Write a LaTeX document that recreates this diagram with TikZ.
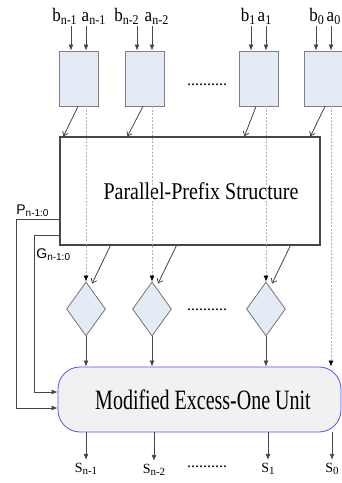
\documentclass[tikz,border=0pt]{standalone}
\usepackage{graphicx}
\usepackage{fontspec}
\setmainfont{Liberation Serif}
\newfontfamily\labelsans{Liberation Sans}
\usetikzlibrary{positioning}
\usetikzlibrary{calc}
\usetikzlibrary{shapes}
\usetikzlibrary{shapes.geometric}
\usetikzlibrary{arrows.meta}
\definecolor{cellblue}{RGB}{228,235,246}
\definecolor{unitgray}{RGB}{241,241,241}
\definecolor{unitblue}{RGB}{85,85,245}
\definecolor{wiregray}{RGB}{70,70,70}
\newcommand{\idx}[2][12]{\raisebox{-0.15em}{\fontsize{#1}{#1}\selectfont #2}}
\newcommand{\tall}[2][1.2]{\scalebox{1}[#1]{#2}}
\tikzset{>={Latex[length=6pt,width=5pt]}}
\tikzset{cellbox/.style={rectangle, draw=gray, fill=cellblue, minimum width=39pt, minimum height=55pt, inner sep=0pt}}
\tikzset{mergebox/.style={diamond, draw=gray!90!black, fill=cellblue, minimum width=39pt, minimum height=54pt, inner sep=0pt}}
\tikzset{prefixbox/.style={rectangle, draw=wiregray, line width=1.2pt, minimum width=260pt, minimum height=108pt, font=\fontsize{20}{24}\selectfont}}
\tikzset{unitbox/.style={rectangle, rounded corners=22pt, draw=unitblue, fill=unitgray, minimum width=283pt, minimum height=65pt, font=\fontsize{20}{24}\selectfont}}
\tikzset{inlabel/.style={font=\fontsize{17}{17}\selectfont, inner sep=1pt, anchor=base}}
\tikzset{outlabel/.style={font=\fontsize{14}{14}\selectfont, inner sep=3pt}}
\tikzset{wirelabel/.style={font=\labelsans\fontsize{14}{14}\selectfont, inner sep=0pt}}
\tikzset{wire/.style={draw=wiregray, ->}}
\tikzset{dashwire/.style={draw=gray!60, dash pattern=on 2pt off 1.5pt, ->, >={Latex[length=6pt,width=5pt,black]}}}
\tikzset{diag/.style={draw=wiregray, ->, >={Straight Barb[length=4pt,width=6pt]}}}
\tikzset{dotrow/.style={font=\fontsize{16}{16}\selectfont, inner sep=0pt}}

\begin{document}
\begin{tikzpicture}[x=1pt,y=1pt,line width=0.8pt]
    \useasboundingbox (0,0) rectangle (342,483);

    % Input cells
    \node [cellbox] (celln1) at (79,404.5) {};
    \node [cellbox] (celln2) at (145,404.5) {};
    \node [cellbox] (cell1) at (259,404.5) {};
    \node [cellbox] (cell0) at (324,404.5) {};
    \node [dotrow] (dotstop) at (207,398) {..........};

    % Operand labels
    \node [inlabel] (bn1) at (64.5,461) {\tall[1.12]{b\idx{n-1}}};
    \node [inlabel] (an1) at (93.5,461) {\tall[1.12]{a\idx{n-1}}};
    \node [inlabel] (bn2) at (126.5,461) {\tall[1.12]{b\idx{n-2}}};
    \node [inlabel] (an2) at (156.5,461) {\tall[1.12]{a\idx{n-2}}};
    \node [inlabel] (b1) at (248,461) {\tall[1.12]{b\idx{1}}};
    \node [inlabel] (a1) at (264.5,461) {\tall[1.12]{a\idx{1}}};
    \node [inlabel] (b0) at (316.5,461) {\tall[1.12]{b\idx{0}}};
    \node [inlabel] (a0) at (333.5,461) {\tall[1.12]{a\idx{0}}};

    % Operand arrows
    \draw [wire] ($(bn1.south)+(6.5,0)$) -- ($(celln1.north)+(-8,0)$);
    \draw [wire] ($(an1.south)+(-7.5,0)$) -- ($(celln1.north)+(7,0)$);
    \draw [wire] ($(bn2.south)+(10.5,0)$) -- ($(celln2.north)+(-8,0)$);
    \draw [wire] ($(an2.south)+(-4.5,0)$) -- ($(celln2.north)+(7,0)$);
    \draw [wire] ($(b1.south)+(3,0)$) -- ($(cell1.north)+(-8,0)$);
    \draw [wire] ($(a1.south)+(1.5,0)$) -- ($(cell1.north)+(7,0)$);
    \draw [wire] ($(b0.south)+(-0.5,0)$) -- ($(cell0.north)+(-8,0)$);
    \draw [wire] ($(a0.south)+(-2.5,0)$) -- ($(cell0.north)+(7,0)$);

    % Prefix network
    \node [prefixbox] (pps) at (190,292) {\hspace*{22pt}\tall[1.2]{Parallel-Prefix Structure}};

    % Merge diamonds
    \node [mergebox] (mergen1) at (86,174) {};
    \node [mergebox] (mergen2) at (152,174) {};
    \node [mergebox] (merge1) at (266,174) {};
    \node [dotrow] (dotsmid) at (207,173) {..........};

    % Sum unit
    \node [unitbox] (unit) at (199.5,83.5) {\hspace*{7pt}\tall[1.4]{Modified Excess-One Unit}};

    % Sum labels
    \node [outlabel] (sn1) at (86,14) {S\idx[11]{n-1}};
    \node [outlabel] (sn2) at (154,13) {S\idx[11]{n-2}};
    \node [outlabel] (s1) at (268,14) {S\idx[11]{1}};
    \node [outlabel] (s0) at (332,14) {S\idx[11]{0}};
    \node [dotrow] (dotsbot) at (207,16) {..........};

    % Taps under the cells
    \coordinate (tapn1) at ($(celln1.south)+(7,0)$);
    \coordinate (tapn2) at ($(celln2.south)+(7,0)$);
    \coordinate (tap1) at ($(cell1.south)+(7,0)$);
    \coordinate (tap0) at ($(cell0.south)+(7,0)$);

    % Cells into prefix network
    \draw [diag] ($(celln1.south)+(-1,0)$) -- ($(pps.north west)+(4,0)$);
    \draw [diag] ($(celln2.south)+(-2,0)$) -- ($(pps.north west)+(68,0)$);
    \draw [diag] ($(cell1.south)+(-3,0)$) -- ($(pps.north west)+(185,0)$);
    \draw [diag] ($(cell0.south)+(1,0)$) -- ($(pps.north west)+(251,0)$);

    % Dashed bypass lines
    \draw [dashwire] (tapn1) -- (mergen1.north);
    \draw [dashwire] (tapn2) -- (mergen2.north);
    \draw [dashwire] (tap1) -- (merge1.north);
    \draw [dashwire] (tap0) -- (tap0 |- unit.north);

    % Prefix network into diamonds
    \draw [diag] ($(pps.south west)+(51,0)$) -- ($(mergen1.north)+(6,-2)$);
    \draw [diag] ($(pps.south west)+(117,0)$) -- ($(mergen2.north)+(6,-2)$);
    \draw [diag] ($(pps.south west)+(231,0)$) -- ($(merge1.north)+(6,-2)$);

    % Diamonds into unit
    \draw [wire] (mergen1) -- (mergen1 |- unit.north);
    \draw [wire] (mergen2) -- (mergen2 |- unit.north);
    \draw [wire] (merge1) -- (merge1 |- unit.north);

    % Propagate and generate wires
    \coordinate (ptap) at ($(pps.west)+(0,-28)$);
    \coordinate (gtap) at ($(pps.west)+(0,-44)$);
    \coordinate (pcorner) at (16,264);
    \coordinate (gcorner) at (34,248);
    \coordinate (pturn) at (16,75);
    \coordinate (gturn) at (34,91);
    \draw [wire] (ptap) -- (pcorner) -- (pturn) -- (unit.west |- pturn);
    \draw [wire] (gtap) -- (gcorner) -- (gturn) -- (unit.west |- gturn);
    \node [wirelabel, above right=2pt and 0pt of pcorner] (plabel) {P\idx[10]{n-1:0}};
    \node [wirelabel, below right=13pt and 2pt of gcorner] (glabel) {G\idx[10]{n-1:0}};

    % Sum outputs
    \draw [wire] (sn1 |- unit.south) -- (sn1);
    \draw [wire] (sn2 |- unit.south) -- (sn2);
    \draw [wire] (s1 |- unit.south) -- (s1);
    \draw [wire] (s0 |- unit.south) -- (s0);

\end{tikzpicture}
\end{document}
